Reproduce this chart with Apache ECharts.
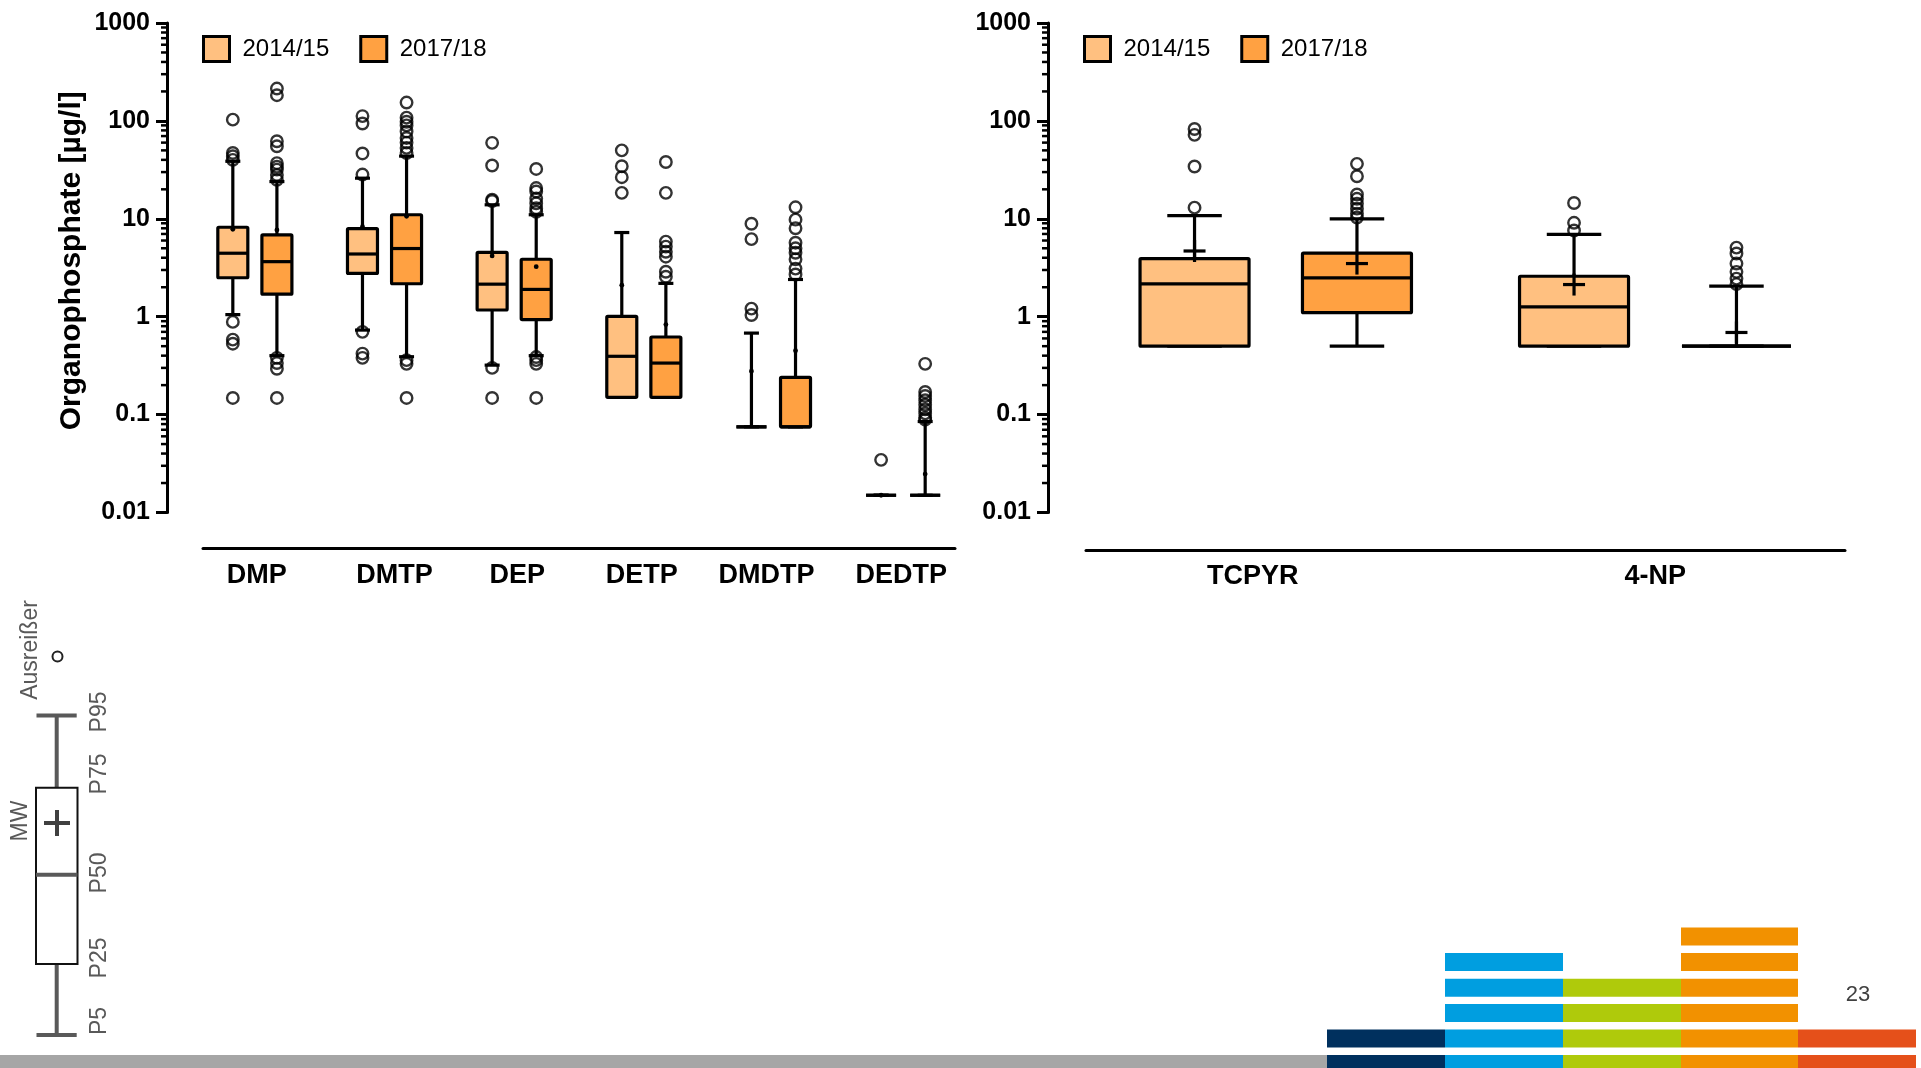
<!DOCTYPE html>
<html><head><meta charset="utf-8">
<script src="https://cdn.jsdelivr.net/npm/echarts@6/dist/echarts.min.js"></script>
<style>html,body{margin:0;padding:0;background:#fff}#c{width:1921px;height:1068px}</style>
</head><body><div id="c"></div>
<script>
// ---------- data ----------
const leftCategories = ['DMP', 'DMTP', 'DEP', 'DETP', 'DMDTP', 'DEDTP'];
const rightCategories = ['TCPYR', '4-NP'];
const seriesNames = ['2014/15', '2017/18'];
const yTickValues = [0.01, 0.1, 1, 10, 100, 1000];
const minorTickValues = [0.02,0.03,0.04,0.05,0.06,0.07,0.08,0.09,
  0.2,0.3,0.4,0.5,0.6,0.7,0.8,0.9, 2,3,4,5,6,7,8,9,
  20,30,40,50,60,70,80,90, 200,300,400,500,600,700,800,900];

// [P5, P25, P50, P75, P95, MW]
const left2014 = [
  [1.05, 2.5, 4.45, 8.2, 38.7, 7.8],
  [0.73, 2.77, 4.37, 7.95, 26, 8.3],
  [0.32, 1.17, 2.15, 4.55, 13.9, 4.18],
  [0.15, 0.15, 0.394, 1.01, 7.24, 2.1],
  [0.075, 0.075, 0.075, 0.075, 0.68, 0.278],
  [0.015, 0.015, 0.015, 0.015, 0.015, 0.015]
];
const left2017 = [
  [0.40, 1.70, 3.65, 6.85, 24, 7.7],
  [0.39, 2.17, 4.97, 11, 43.7, 10.6],
  [0.40, 0.935, 1.90, 3.86, 11, 3.24],
  [0.15, 0.15, 0.336, 0.62, 2.19, 0.83],
  [0.075, 0.075, 0.075, 0.24, 2.4, 0.45],
  [0.015, 0.015, 0.015, 0.015, 0.085, 0.0247]
];
const left2014Outliers = [
  [103, 47, 43.6, 40, 0.885, 0.583, 0.53, 0.148],
  [112, 94, 46.5, 28.3, 0.70, 0.42, 0.38],
  [59.7, 35, 15.7, 15.2, 0.30, 0.148],
  [50, 34.4, 26.6, 18.4],
  [8.9, 6.2, 1.21, 1.04],
  [0.0345]
];
const left2017Outliers = [
  [214, 183, 62, 55, 37, 34, 31.8, 28, 25, 0.38, 0.336, 0.294, 0.148],
  [154, 108, 98, 90, 78, 67, 60, 53, 47, 0.36, 0.33, 0.148],
  [32.3, 20.6, 19, 16.1, 14.4, 12.8, 11.8, 0.387, 0.36, 0.33, 0.148],
  [38, 18.4, 5.85, 5.2, 4.6, 4.1, 2.88, 2.56],
  [13.1, 9.8, 8.0, 5.7, 5.0, 4.5, 3.86, 3.1, 2.7],
  [0.33, 0.17, 0.155, 0.14, 0.126, 0.113, 0.103, 0.093, 0.0887]
];
const right2014 = [
  [0.5, 0.5, 2.16, 3.92, 10.8, 4.69],
  [0.5, 0.5, 1.26, 2.59, 6.93, 2.13]
];
const right2017 = [
  [0.5, 1.1, 2.49, 4.47, 10, 3.49],
  [0.5, 0.5, 0.5, 0.5, 2.05, 0.69]
];
const right2014Outliers = [
  [82.7, 72, 34.2, 13],
  [14.5, 9.1, 7.6]
];
const right2017Outliers = [
  [36.4, 27.2, 17.7, 16, 14.3, 12.7, 11.3, 10.3],
  [5.08, 4.42, 3.49, 2.87, 2.45, 2.15]
];
const keyLabels = ['P95', 'P75', 'P50', 'P25', 'P5'];

// ---------- style ----------
const SANS = '"Liberation Sans", Arial, Helvetica, sans-serif';
const LIGHT = '#FFC080';
const DARK = '#FFA142';
// horizontal nudge (px) of category labels, as in the original slide
const leftLabelShift = [2, 10, 3, -2, -7, -2];
const rightLabelShift = [-23, 0];

// ---------- helpers ----------
function fmtLog(v) { return String(+Number(v).toPrecision(2)); }
function catLabel(cats, shifts) {
  return function (v) {
    const r = Math.round(v);
    if (!(Math.abs(v - r) < 1e-6 && cats[r] !== undefined)) return '';
    const s = shifts[r] || 0;
    if (s === 0) return cats[r];
    return '{' + (s > 0 ? 'r' : 'l') + Math.abs(s) + '|' + cats[r] + '}';
  };
}
function richFor(shifts, fontSize) {
  const rich = {};
  shifts.forEach(function (s) {
    if (s === 0) return;
    const key = (s > 0 ? 'r' : 'l') + Math.abs(s);
    rich[key] = {
      fontFamily: SANS, fontWeight: 'bold', fontSize: fontSize, color: '#000',
      padding: s > 0 ? [0, 0, 0, 2 * s] : [0, -2 * s, 0, 0]
    };
  });
  return rich;
}
function boxRender(boxW, fill, meanType) {
  return function (params, api) {
    const x = api.value(0);
    const c = [1, 2, 3, 4, 5, 6].map(function (i) { return api.coord([x, api.value(i)]); });
    const cx = c[0][0];
    const y5 = c[0][1], y25 = c[1][1], y50 = c[2][1], y75 = c[3][1], y95 = c[4][1], ym = c[5][1];
    const hw = boxW / 2, cw = boxW / 4;
    const ls = { stroke: '#000', lineWidth: 3.2 };
    const ch = [
      { type: 'line', shape: { x1: cx, y1: y75, x2: cx, y2: y95 }, style: ls },
      { type: 'line', shape: { x1: cx, y1: y25, x2: cx, y2: y5 }, style: ls },
      { type: 'line', shape: { x1: cx - cw, y1: y95, x2: cx + cw, y2: y95 }, style: ls },
      { type: 'line', shape: { x1: cx - cw, y1: y5, x2: cx + cw, y2: y5 }, style: ls },
      { type: 'rect', shape: { x: cx - hw, y: y75, width: boxW, height: Math.max(0, y25 - y75), r: 1 }, style: { fill: fill, stroke: '#000', lineWidth: 3.2 } },
      { type: 'line', shape: { x1: cx - hw, y1: y50, x2: cx + hw, y2: y50 }, style: ls }
    ];
    if (meanType === 'dot') {
      ch.push({ type: 'circle', shape: { cx: cx, cy: ym, r: 2.4 }, style: { fill: '#000' } });
    } else {
      ch.push({ type: 'line', shape: { x1: cx - 11, y1: ym, x2: cx + 11, y2: ym }, style: ls });
      ch.push({ type: 'line', shape: { x1: cx, y1: ym - 11, x2: cx, y2: ym + 11 }, style: ls });
    }
    return { type: 'group', children: ch };
  };
}
function minorRender(xMin, axisOffset) {
  return function (params, api) {
    const p = api.coord([xMin, api.value(0)]);
    const ax = p[0] - axisOffset;
    return { type: 'line', shape: { x1: ax - 6, y1: p[1], x2: ax, y2: p[1] }, style: { stroke: '#000', lineWidth: 2.5 } };
  };
}

const LEFT_SHIFT = 0.17, RIGHT_SHIFT = 0.214;
function boxData(stats, shift) { return stats.map(function (s, i) { return [i + shift].concat(s); }); }
function outData(outs, shift) {
  const d = [];
  outs.forEach(function (arr, i) { arr.forEach(function (v) { d.push([i + shift, v]); }); });
  return d;
}

function yAxisCfg(gridIndex, offset, withName) {
  const a = {
    gridIndex: gridIndex, type: 'log', logBase: 10, min: 0.01, max: 1000, offset: offset,
    axisLine: { show: true, onZero: false, lineStyle: { color: '#000', width: 3 } },
    axisTick: { show: true, length: 11, lineStyle: { color: '#000', width: 3 } },
    minorTick: { show: false }, splitLine: { show: false },
    axisLabel: { formatter: fmtLog, fontFamily: SANS, fontWeight: 'bold', fontSize: 25, color: '#000', margin: 17 }
  };
  if (withName) {
    a.name = 'Organophosphate [µg/l]';
    a.nameLocation = 'middle';
    a.nameGap = 80;
    a.nameMoveOverlap = false;
    a.nameTextStyle = { fontFamily: SANS, fontWeight: 'bold', fontSize: 30, color: '#000', padding: [0, 0, 0, 14] };
  }
  return a;
}
function xAxisCfg(gridIndex, min, max, interval, offset, cats, shifts, margin) {
  return {
    gridIndex: gridIndex, type: 'value', min: min, max: max, interval: interval, offset: offset,
    axisLine: { show: true, onZero: false, lineStyle: { color: '#000', width: 3 } },
    axisTick: { show: false }, splitLine: { show: false },
    axisLabel: { formatter: catLabel(cats, shifts), rich: richFor(shifts, 27),
      fontFamily: SANS, fontWeight: 'bold', fontSize: 27, color: '#000', margin: margin }
  };
}
function legendCfg(left) {
  return {
    left: left, top: 35, padding: 0, itemWidth: 26, itemHeight: 25, itemGap: 30,
    icon: 'rect', data: seriesNames,
    itemStyle: { borderColor: '#000', borderWidth: 3 },
    textStyle: { fontFamily: SANS, fontSize: 24, color: '#000', padding: [0, 0, 0, 8] },
    selectedMode: false
  };
}

// ---------- key + decoration (static slide elements) ----------
const GRAY = '#595959';
const keyGraphic = [
  { type: 'circle', shape: { cx: 57.5, cy: 656.5, r: 5 }, style: { fill: 'none', stroke: '#222', lineWidth: 2 } },
  { type: 'line', shape: { x1: 56.7, y1: 715.5, x2: 56.7, y2: 787.8 }, style: { stroke: GRAY, lineWidth: 4 } },
  { type: 'line', shape: { x1: 56.7, y1: 964, x2: 56.7, y2: 1035 }, style: { stroke: GRAY, lineWidth: 4 } },
  { type: 'line', shape: { x1: 36.5, y1: 715.5, x2: 76.7, y2: 715.5 }, style: { stroke: GRAY, lineWidth: 4 } },
  { type: 'line', shape: { x1: 36.5, y1: 1035, x2: 76.7, y2: 1035 }, style: { stroke: GRAY, lineWidth: 4 } },
  { type: 'rect', shape: { x: 36, y: 787.8, width: 41.5, height: 176.2 }, style: { fill: '#fff', stroke: '#111', lineWidth: 2 } },
  { type: 'line', shape: { x1: 36, y1: 874.7, x2: 77.5, y2: 874.7 }, style: { stroke: GRAY, lineWidth: 4 } },
  { type: 'line', shape: { x1: 44, y1: 823, x2: 70, y2: 823 }, style: { stroke: '#404040', lineWidth: 4 } },
  { type: 'line', shape: { x1: 57, y1: 810, x2: 57, y2: 836 }, style: { stroke: '#404040', lineWidth: 4 } }
];
function rotText(txt, x, y) {
  return { type: 'text', x: x, y: y, rotation: Math.PI / 2,
    style: { text: txt, fill: GRAY, font: '23px ' + SANS, textAlign: 'center', textVerticalAlign: 'middle' } };
}
keyGraphic.push(rotText('Ausreißer', 31, 650));
keyGraphic.push(rotText('MW', 21, 821));
[712, 774, 873, 958, 1021].forEach(function (y, i) { keyGraphic.push(rotText(keyLabels[i], 100, y)); });

const decoCols = [1327, 1445, 1563, 1681, 1798, 1916];
const decoColors = ['#00305E', '#009EE0', '#AFCA0B', '#F29100', '#E5501A'];
const decoRows = [927.5, 953, 978.7, 1004, 1029.4, 1055];
const decoFirstRow = [4, 1, 2, 0, 4];
const decoGraphic = [
  { type: 'rect', shape: { x: 0, y: 1055, width: 1327, height: 13 }, style: { fill: '#A6A6A6' } },
  { type: 'text', x: 1858, y: 995, style: { text: '23', fill: '#404040', font: '22px ' + SANS, textAlign: 'center', textVerticalAlign: 'middle' } }
];
decoColors.forEach(function (col, ci) {
  for (let r = decoFirstRow[ci]; r < decoRows.length; r++) {
    const h = r === decoRows.length - 1 ? 13 : 18;
    decoGraphic.push({ type: 'rect', shape: { x: decoCols[ci], y: decoRows[r], width: decoCols[ci + 1] - decoCols[ci], height: h }, style: { fill: col } });
  }
});

// ---------- option ----------
const outlierStyle = { color: 'rgba(0,0,0,0)', borderColor: '#000', borderWidth: 2.4 };
const OUT_SIZE = 11.5;
const option = {
  backgroundColor: '#fff',
  animation: false,
  grid: [
    { left: 203, top: 23, width: 752, height: 489.5 },
    { left: 1086, top: 23, width: 759, height: 489.5 }
  ],
  xAxis: [
    xAxisCfg(0, -0.4, 5.4, 0.2, 36, leftCategories, leftLabelShift, 14),
    xAxisCfg(1, -0.5, 1.5, 0.5, 38, rightCategories, rightLabelShift, 13)
  ],
  yAxis: [yAxisCfg(0, 36, true), yAxisCfg(1, 38, false)],
  legend: [legendCfg(202), legendCfg(1083)],
  series: [
    { type: 'custom', name: '2014/15', xAxisIndex: 0, yAxisIndex: 0, z: 2, itemStyle: { color: LIGHT }, encode: { x: 0, y: [1, 2, 3, 4, 5, 6] },
      renderItem: boxRender(30, LIGHT, 'dot'), data: boxData(left2014, -LEFT_SHIFT) },
    { type: 'custom', name: '2017/18', xAxisIndex: 0, yAxisIndex: 0, z: 2, itemStyle: { color: DARK }, encode: { x: 0, y: [1, 2, 3, 4, 5, 6] },
      renderItem: boxRender(30, DARK, 'dot'), data: boxData(left2017, LEFT_SHIFT) },
    { type: 'custom', name: '2014/15', xAxisIndex: 1, yAxisIndex: 1, z: 2, itemStyle: { color: LIGHT }, encode: { x: 0, y: [1, 2, 3, 4, 5, 6] },
      renderItem: boxRender(109, LIGHT, 'plus'), data: boxData(right2014, -RIGHT_SHIFT) },
    { type: 'custom', name: '2017/18', xAxisIndex: 1, yAxisIndex: 1, z: 2, itemStyle: { color: DARK }, encode: { x: 0, y: [1, 2, 3, 4, 5, 6] },
      renderItem: boxRender(109, DARK, 'plus'), data: boxData(right2017, RIGHT_SHIFT) },
    { type: 'scatter', name: 'out14L', xAxisIndex: 0, yAxisIndex: 0, z: 3, symbolSize: OUT_SIZE, itemStyle: outlierStyle, data: outData(left2014Outliers, -LEFT_SHIFT) },
    { type: 'scatter', name: 'out17L', xAxisIndex: 0, yAxisIndex: 0, z: 3, symbolSize: OUT_SIZE, itemStyle: outlierStyle, data: outData(left2017Outliers, LEFT_SHIFT) },
    { type: 'scatter', name: 'out14R', xAxisIndex: 1, yAxisIndex: 1, z: 3, symbolSize: OUT_SIZE, itemStyle: outlierStyle, data: outData(right2014Outliers, -RIGHT_SHIFT) },
    { type: 'scatter', name: 'out17R', xAxisIndex: 1, yAxisIndex: 1, z: 3, symbolSize: OUT_SIZE, itemStyle: outlierStyle, data: outData(right2017Outliers, RIGHT_SHIFT) },
    { type: 'custom', name: 'minorL', xAxisIndex: 0, yAxisIndex: 0, z: 4, silent: true, renderItem: minorRender(-0.4, 36),
      data: minorTickValues.map(function (v) { return [v]; }), encode: { y: 0 } },
    { type: 'custom', name: 'minorR', xAxisIndex: 1, yAxisIndex: 1, z: 4, silent: true, renderItem: minorRender(-0.5, 38),
      data: minorTickValues.map(function (v) { return [v]; }), encode: { y: 0 } }
  ],
  graphic: keyGraphic.concat(decoGraphic)
};
const chart = echarts.init(document.getElementById('c'), null, { renderer: 'canvas' });
chart.setOption(option);
</script></body></html>
